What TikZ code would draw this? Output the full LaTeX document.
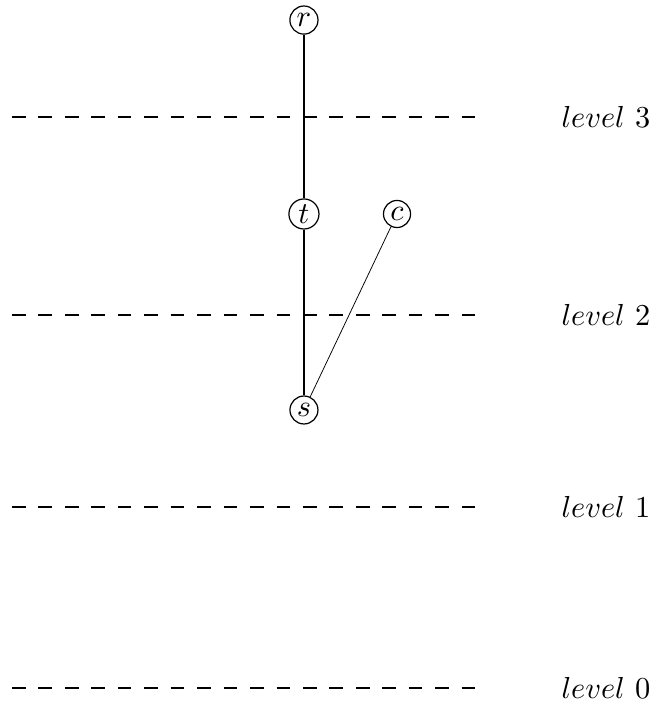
\documentclass[tikz,border=0pt]{standalone}
\usetikzlibrary{positioning}
\tikzset{
  vertex/.style={
    draw, circle, inner sep=1pt, font=\normalsize
  },
  % level separators
  levelline/.style={
    dash pattern=on 4.5pt off 4.2pt, line width=0.4pt
  },
  levellabel/.style={
    font=\normalsize
  },
  % tree edges
  treeedge/.style={
    -, line width=0.7pt
  },
  crossedge/.style={
    -, line width=0.25pt
  },
}

\begin{document}
\begin{tikzpicture}
  \useasboundingbox (0,0) rectangle (7.503,8.116);

  %% -- Levels --
  \foreach \lv/\y in {3/6.763, 2/4.474, 1/2.254, 0/0.162} {
    \coordinate (lineL\lv) at (0.139,\y);
    \coordinate (lineR\lv) at (5.500,\y);
    \draw[levelline] (lineL\lv) -- (lineR\lv);
    \node[levellabel] (lev\lv) at (7.005,\y) {$level\ \lv$};
  }

  %% -- Vertices --
  \node[vertex] (r) at (3.514,7.884) {$r$};
  \node[vertex] (t) at (3.514,5.642) {$t$};
  \node[vertex] (c) at (4.590,5.642) {$c$};
  \node[vertex] (s) at (3.514,3.376) {$s$};

  %% -- Edges --
  \draw[treeedge] (r) -- (t);
  \draw[treeedge] (t) -- (s);
  \draw[crossedge] (s) -- (c);

\end{tikzpicture}
\end{document}
